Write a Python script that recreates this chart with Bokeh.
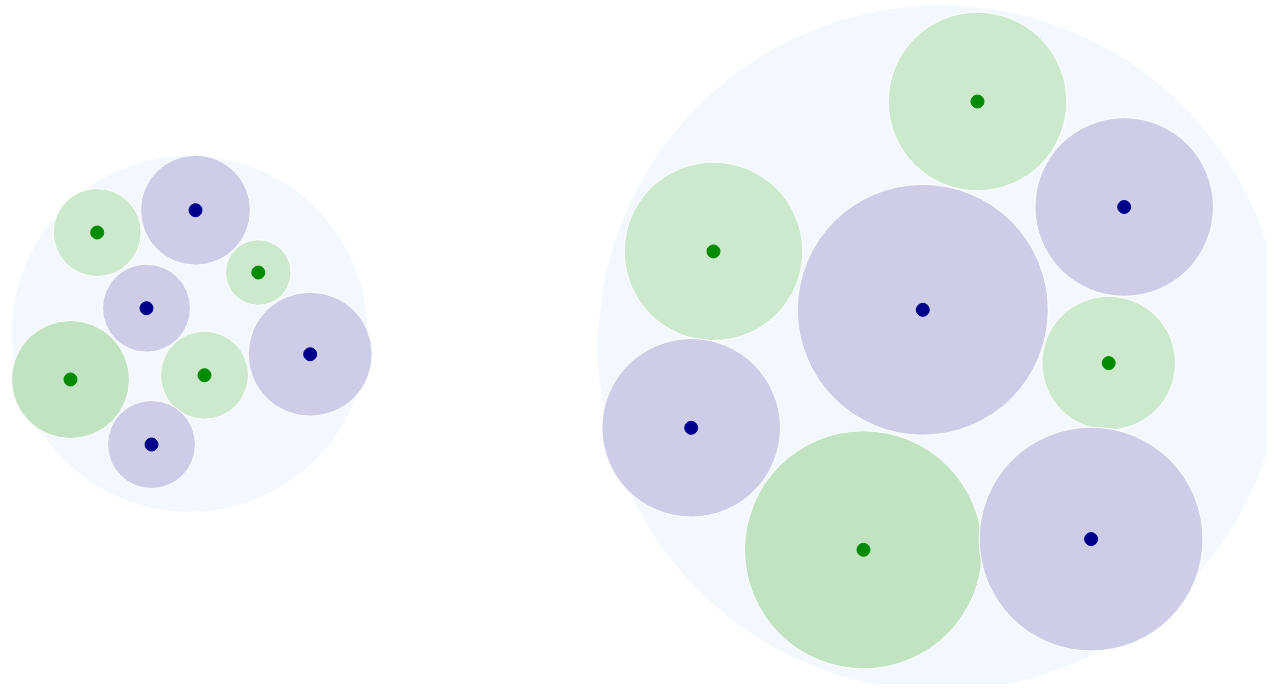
from bokeh.plotting import figure
from bokeh.models import Range1d, ColumnDataSource
from bokeh.embed import file_html
from bokeh.resources import INLINE

# Parent (group) circles
group_names = ["A", "B"]
group_x = [189.2, 940.0]
group_y = [333.3, 347.5]
group_r = [178.0, 342.5]

# Leaf circles
leaf_group = ["A", "A", "A", "A", "A", "A", "A", "A",
              "B", "B", "B", "B", "B", "B", "B", "B"]
leaf_kind = ["g", "n", "g", "n", "g", "g", "n", "n",
             "g", "n", "g", "n", "g", "n", "g", "n"]
leaf_x = [96.7, 195.0, 257.8, 146.0, 70.0, 204.0, 309.7, 151.0,
          977.0, 1123.7, 713.0, 922.3, 1108.2, 690.7, 863.0, 1090.6]
leaf_y = [232.0, 209.7, 272.0, 307.7, 379.0, 374.7, 353.7, 444.0,
          101.0, 206.5, 250.9, 309.3, 362.6, 427.3, 549.3, 538.6]
leaf_r = [44.0, 55.0, 32.8, 44.0, 59.0, 44.0, 62.0, 44.0,
          89.3, 89.3, 89.3, 125.5, 66.8, 89.3, 119.0, 111.9]
leaf_strong = [False, False, False, False, True, False, False, False,
               False, False, False, False, False, False, True, False]

fill_map = {"g": "#cde9cd", "n": "#cdcde8"}
strong_fill = {"g": "#c1e3c1", "n": "#c3c3e3"}
dot_map = {"g": "#008b00", "n": "#00008b"}

leaf_fill = [strong_fill[k] if s else fill_map[k] for k, s in zip(leaf_kind, leaf_strong)]
leaf_dot = [dot_map[k] for k in leaf_kind]

p = figure(width=1266, height=684, output_backend="svg", toolbar_location=None,
           x_range=Range1d(0, 1266), y_range=Range1d(684, 0),
           min_border=0, background_fill_color="white", border_fill_color="white")
p.axis.visible = False
p.grid.visible = False
p.outline_line_color = None

gsrc = ColumnDataSource(dict(x=group_x, y=group_y, r=group_r, name=group_names))
p.circle(x="x", y="y", radius="r", source=gsrc, fill_color="#f2f8fe", line_color=None)

lsrc = ColumnDataSource(dict(x=leaf_x, y=leaf_y, r=leaf_r, fill=leaf_fill,
                             dot=leaf_dot, group=leaf_group))
p.circle(x="x", y="y", radius="r", source=lsrc, fill_color="fill",
         line_color="white", line_width=1)
p.scatter(x="x", y="y", size=13, source=lsrc, fill_color="dot", line_color="dot")

open("out.html", "w").write(file_html(p, INLINE))
